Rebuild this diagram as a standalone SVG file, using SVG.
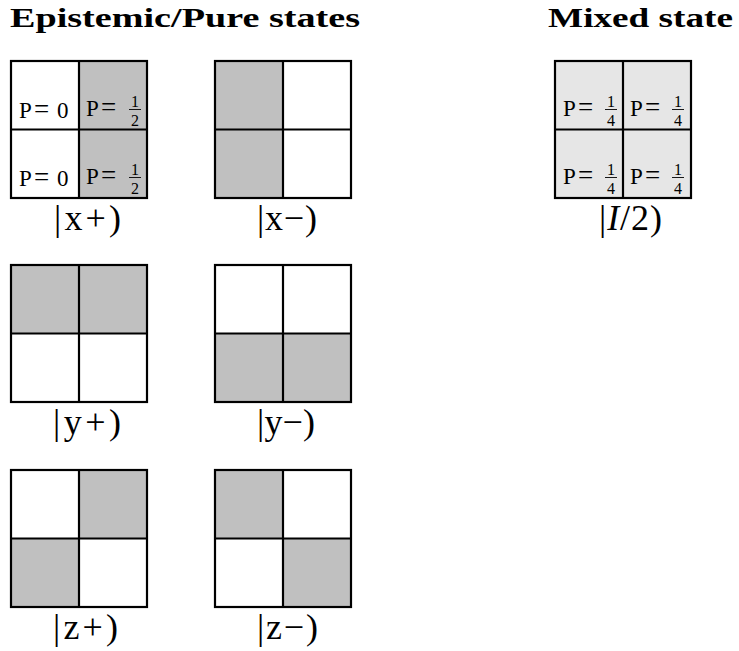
<svg xmlns="http://www.w3.org/2000/svg" width="739" height="651" viewBox="0 0 739 651">
<style>
  .title { font-family: "Liberation Serif", serif; font-weight: bold; font-size: 27px; fill: #000; }
  .lbl { font-family: "Liberation Serif", serif; font-size: 36px; fill: #000; }
  .cell { font-family: "Liberation Serif", serif; font-size: 23px; fill: #000; }
  .eq { font-size: 27px; }
  .frac { font-family: "Liberation Serif", serif; font-size: 16px; fill: #000; text-anchor: middle; }
  .bar { stroke: #000; stroke-width: 0.9; }
  .g { fill: #c0c0c0; }
  .w { fill: #ffffff; }
  .m { fill: #e6e6e6; }
  .grid { fill: none; stroke: #000; stroke-width: 2.2; }
</style>
<defs>
  <g id="frame">
    <rect class="grid" x="0" y="0" width="136" height="137"/>
    <line class="grid" x1="68" y1="0" x2="68" y2="137"/>
    <line class="grid" x1="0" y1="68.5" x2="136" y2="68.5"/>
  </g>
</defs>

<text class="title" x="10" y="27" textLength="350" lengthAdjust="spacingAndGlyphs">Epistemic/Pure states</text>
<text class="title" x="548" y="27" textLength="185" lengthAdjust="spacingAndGlyphs">Mixed state</text>

<!-- |x+) -->
<g id="state-x-plus" transform="translate(11,61)">
  <rect class="w" x="0" y="0" width="68" height="137"/>
  <rect class="g" x="68" y="0" width="68" height="137"/>
  <use href="#frame"/>
  <text class="cell" y="57"><tspan x="8">P</tspan><tspan class="eq" x="23">=</tspan><tspan x="46">0</tspan></text>
  <text class="cell" y="125"><tspan x="8">P</tspan><tspan class="eq" x="23">=</tspan><tspan x="46">0</tspan></text>
  <text class="cell" y="55"><tspan x="75">P</tspan><tspan class="eq" x="90">=</tspan></text>
  <text class="frac" x="124" y="45.5">1</text><line class="bar" x1="118" y1="48.5" x2="130" y2="48.5"/><text class="frac" x="124" y="64.5">2</text>
  <text class="cell" y="123"><tspan x="75">P</tspan><tspan class="eq" x="90">=</tspan></text>
  <text class="frac" x="124" y="113.5">1</text><line class="bar" x1="118" y1="116.5" x2="130" y2="116.5"/><text class="frac" x="124" y="132.5">2</text>
  <text class="lbl" x="43" y="169" textLength="67" lengthAdjust="spacing">|x+)</text>
</g>

<!-- |x−) -->
<g id="state-x-minus" transform="translate(215,61)">
  <rect class="g" x="0" y="0" width="68" height="137"/>
  <rect class="w" x="68" y="0" width="68" height="137"/>
  <use href="#frame"/>
  <text class="lbl" x="42" y="169" textLength="60" lengthAdjust="spacing">|x−)</text>
</g>

<!-- |y+) -->
<g id="state-y-plus" transform="translate(11,265)">
  <rect class="g" x="0" y="0" width="136" height="68.5"/>
  <rect class="w" x="0" y="68.5" width="136" height="68.5"/>
  <use href="#frame"/>
  <text class="lbl" x="42" y="169" textLength="68" lengthAdjust="spacing">|y+)</text>
</g>

<!-- |y−) -->
<g id="state-y-minus" transform="translate(215,265)">
  <rect class="w" x="0" y="0" width="136" height="68.5"/>
  <rect class="g" x="0" y="68.5" width="136" height="68.5"/>
  <use href="#frame"/>
  <text class="lbl" x="42" y="169" textLength="58" lengthAdjust="spacing">|y−)</text>
</g>

<!-- |z+) -->
<g id="state-z-plus" transform="translate(11,470)">
  <rect class="w" x="0" y="0" width="136" height="137"/>
  <rect class="g" x="68" y="0" width="68" height="68.5"/>
  <rect class="g" x="0" y="68.5" width="68" height="68.5"/>
  <use href="#frame"/>
  <text class="lbl" x="42" y="169" textLength="65" lengthAdjust="spacing">|z+)</text>
</g>

<!-- |z−) -->
<g id="state-z-minus" transform="translate(215,470)">
  <rect class="w" x="0" y="0" width="136" height="137"/>
  <rect class="g" x="0" y="0" width="68" height="68.5"/>
  <rect class="g" x="68" y="68.5" width="68" height="68.5"/>
  <use href="#frame"/>
  <text class="lbl" x="42" y="169" textLength="61" lengthAdjust="spacing">|z−)</text>
</g>

<!-- |I/2) -->
<g id="state-mixed" transform="translate(555,61)">
  <rect class="m" x="0" y="0" width="136" height="137"/>
  <use href="#frame"/>
  <text class="cell" y="55"><tspan x="8">P</tspan><tspan class="eq" x="23">=</tspan></text>
  <text class="frac" x="56" y="45.5">1</text><line class="bar" x1="50" y1="48.5" x2="62" y2="48.5"/><text class="frac" x="56" y="64.5">4</text>
  <text class="cell" y="55"><tspan x="75">P</tspan><tspan class="eq" x="90">=</tspan></text>
  <text class="frac" x="123" y="45.5">1</text><line class="bar" x1="117" y1="48.5" x2="129" y2="48.5"/><text class="frac" x="123" y="64.5">4</text>
  <text class="cell" y="123"><tspan x="8">P</tspan><tspan class="eq" x="23">=</tspan></text>
  <text class="frac" x="56" y="113.5">1</text><line class="bar" x1="50" y1="116.5" x2="62" y2="116.5"/><text class="frac" x="56" y="132.5">4</text>
  <text class="cell" y="123"><tspan x="75">P</tspan><tspan class="eq" x="90">=</tspan></text>
  <text class="frac" x="123" y="113.5">1</text><line class="bar" x1="117" y1="116.5" x2="129" y2="116.5"/><text class="frac" x="123" y="132.5">4</text>
  <text class="lbl" x="44" y="169" textLength="63" lengthAdjust="spacing">|<tspan font-style="italic">I</tspan>/2)</text>
</g>
</svg>
